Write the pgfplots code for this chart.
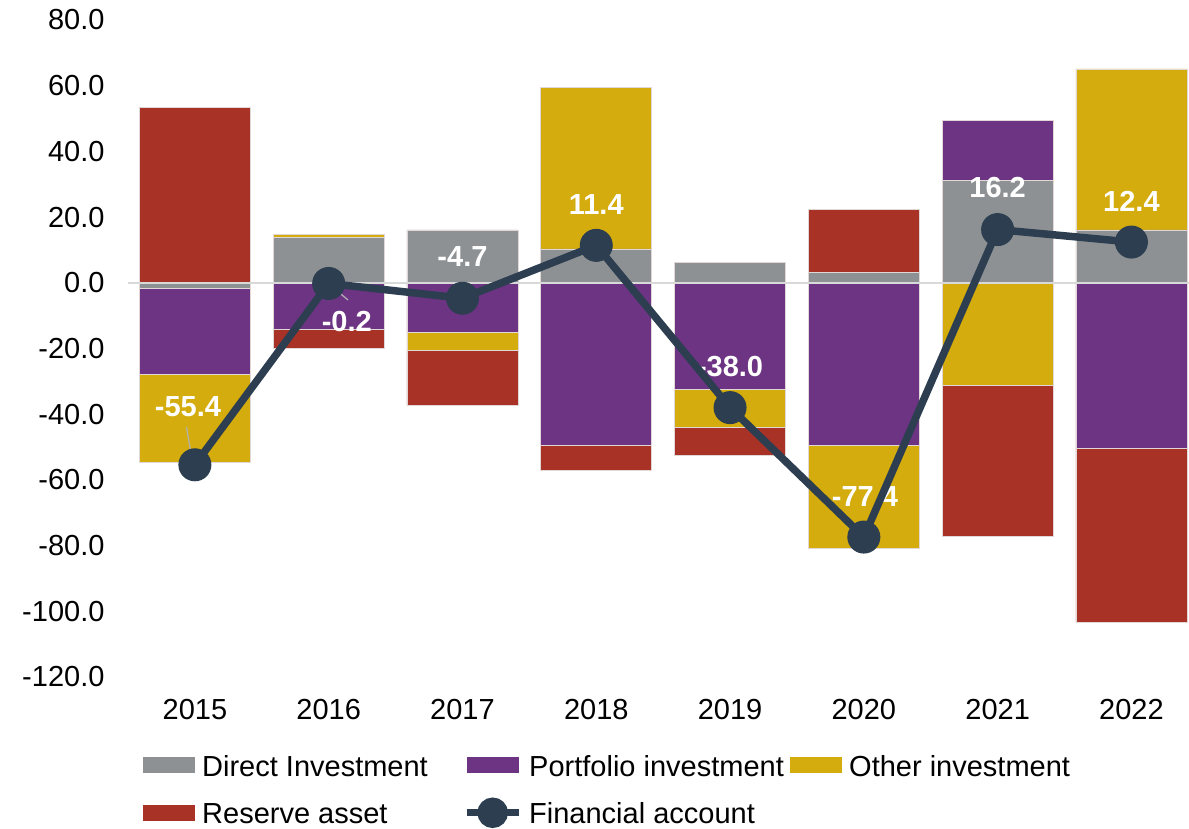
\documentclass[border=0pt]{standalone}
\usepackage{pgfplots}
\pgfplotsset{compat=1.18}
\usepackage{fontspec}
\setmainfont{Liberation Sans}
\definecolor{cDI}{RGB}{142,145,148}
\definecolor{cPI}{RGB}{108,52,131}
\definecolor{cOI}{RGB}{212,172,13}
\definecolor{cRA}{RGB}{169,50,38}
\definecolor{cFA}{RGB}{44,62,80}
\definecolor{cZL}{RGB}{217,217,217}
\definecolor{cEdge}{RGB}{225,215,215}
\newcommand{\lbl}[1]{\makebox[258pt][l]{\strut #1}}
\newcommand{\bigfont}{\fontsize{29}{34}\selectfont}
\tikzset{lab/.style={text=white, font=\bigfont\bfseries, inner sep=0pt}}

\pgfplotstableread{
x DI PI OI RA
0 0 0 0 53.5
1 13.7 0 0.9 0
2 16.1 0 0 0
3 10.3 0 49.3 0
4 6.3 0 0 0
5 3.1 0 0 19.3
6 31.1 18.4 0 0
7 16.1 0 49.0 0
}\postab
\pgfplotstableread{
x DI PI OI RA
0 -1.8 -26.0 -26.8 0
1 0 -14.2 0 -5.7
2 0 -15.2 -5.5 -16.5
3 0 -49.4 0 -7.6
4 0 -32.3 -11.8 -8.4
5 0 -49.6 -31.2 0
6 0 0 -31.1 -46.0
7 0 -50.3 0 -53.0
}\negtab
\pgfplotstableread{
x FA
0 -55.4
1 -0.2
2 -4.7
3 11.4
4 -38.0
5 -77.4
6 16.2
7 12.4
}\fatab

\begin{document}
\begin{tikzpicture}
\useasboundingbox (0,0) rectangle (1189pt,-829pt);
\pgfplotsset{
  base/.style={scale only axis, width=1061pt, height=657pt,
    at={(128pt,-20pt)}, anchor=north west,
    xmin=-0.5, xmax=7.43, ymin=-120, ymax=80},
  bars/.style={base, hide axis, ybar stacked, bar width=111pt,
    every axis plot/.append style={draw=cEdge, line width=0.75pt}},
}
% positive parts
\begin{axis}[bars]
\addplot[fill=cDI] table[x=x,y=DI]{\postab};
\addplot[fill=cPI] table[x=x,y=PI]{\postab};
\addplot[fill=cOI] table[x=x,y=OI]{\postab};
\addplot[fill=cRA] table[x=x,y=RA]{\postab};
\end{axis}
% negative parts
\begin{axis}[bars]
\addplot[fill=cDI] table[x=x,y=DI]{\negtab};
\addplot[fill=cPI] table[x=x,y=PI]{\negtab};
\addplot[fill=cOI] table[x=x,y=OI]{\negtab};
\addplot[fill=cRA] table[x=x,y=RA]{\negtab};
\end{axis}
% zero line and labels
\begin{axis}[base, hide axis]
\draw[cZL, line width=1.5pt] (axis cs:-0.5,0) -- (axis cs:7.43,0);
\draw[gray!60, line width=1.2pt] (axis cs:-0.063,-43.9) -- (axis cs:-0.014,-55.5);
\draw[gray!60, line width=1.2pt] (axis cs:1.0,-0.4) -- (axis cs:1.144,-5.2);
\node[lab] at (axis cs:-0.052,-37.8) {-55.4};
\node[lab] at (axis cs:1.135,-11.8) {-0.2};
\node[lab] at (axis cs:2.0,7.9) {-4.7};
\node[lab] at (axis cs:3.0,23.7) {11.4};
\node[lab] at (axis cs:4.0,-25.5) {-38.0};
\node[lab] at (axis cs:5.008,-65.1) {-77.4};
\node[lab] at (axis cs:6.0,28.9) {16.2};
\node[lab] at (axis cs:7.0,24.7) {12.4};
\end{axis}
% line, ticks, legend
\begin{axis}[base,
  axis line style={draw=none}, major tick length=0pt,
  ytick={-120,-100,...,80},
  xtick={0,...,7},
  xticklabels={2015,2016,2017,2018,2019,2020,2021,2022},
  ticklabel style={font=\bigfont},
  yticklabel style={xshift=-20pt, /pgf/number format/.cd, fixed, fixed zerofill, precision=1, assume math mode=true},
  xticklabel style={yshift=-19pt},
  legend columns=3,
  legend style={at={(axis description cs:0.01414,-0.1142)}, anchor=north west,
    draw=none, fill=none, inner sep=0pt, font=\bigfont,
    nodes={inner sep=0pt}, row sep=20pt,
    /tikz/every odd column/.append style={column sep=7pt},
    /tikz/every even column/.append style={column sep=3pt}},
  legend image code/.code={\fill[#1] (0pt,-8pt) rectangle (52pt,8pt);},
]
\addlegendimage{fill=cDI, draw=none}
\addlegendimage{fill=cPI, draw=none}
\addlegendimage{fill=cOI, draw=none}
\addlegendimage{fill=cRA, draw=none}
\addplot[cFA, line width=7.5pt, mark=*, mark size=16pt,
  mark options={fill=cFA, draw=cFA, line width=1pt},
  legend image code/.code={\draw[cFA, line width=7pt] (0pt,0pt) -- (52pt,0pt); \fill[cFA] (26pt,0pt) circle (11.5pt);}]
  table[x=x,y=FA]{\fatab};
\legend{{\lbl{Direct Investment}},{\lbl{Portfolio investment}},{\lbl{Other investment}},{\lbl{Reserve asset}},{\lbl{Financial account}}}
\end{axis}
\end{tikzpicture}
\end{document}
